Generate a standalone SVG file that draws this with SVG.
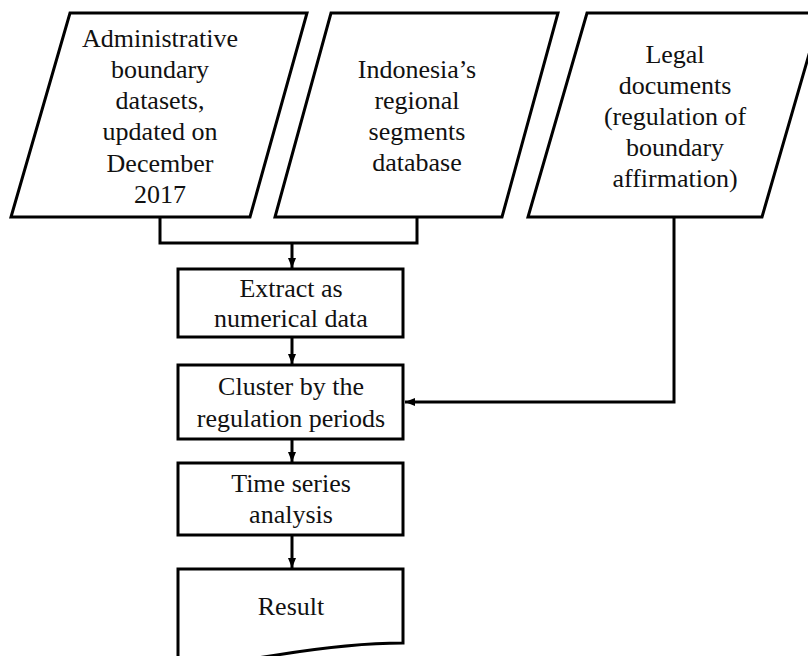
<svg xmlns="http://www.w3.org/2000/svg" width="808" height="656" viewBox="0 0 808 656">
  <defs>
    <marker id="arrow" viewBox="0 0 10 10" refX="10" refY="5" markerWidth="10" markerHeight="10" markerUnits="userSpaceOnUse" orient="auto">
      <path d="M0,1 L10,5 L0,9 Z" fill="#000"/>
    </marker>
    <style>
      .shape { fill: #fff; stroke: #000; stroke-width: 3; stroke-linejoin: miter; }
      .wire { fill: none; stroke: #000; stroke-width: 3; }
      .lbl { font-size: 26px; fill: #111; text-anchor: middle; }
    </style>
  </defs>
  <rect width="808" height="656" fill="#fff"/>

  <!-- connectors -->
  <g id="connectors">
    <polyline class="wire" points="160,217 160,243 417,243 417,217"/>
    <line class="wire" x1="292" y1="243" x2="292" y2="268" marker-end="url(#arrow)"/>
    <line class="wire" x1="292" y1="337" x2="292" y2="364" marker-end="url(#arrow)"/>
    <line class="wire" x1="292" y1="439" x2="292" y2="462" marker-end="url(#arrow)"/>
    <line class="wire" x1="292" y1="535" x2="292" y2="568" marker-end="url(#arrow)"/>
    <polyline class="wire" points="674,217 674,402 405,402" marker-end="url(#arrow)"/>
  </g>

  <g font-family="Liberation Serif, Times New Roman, DejaVu Serif, serif">
  <!-- input data -->
  <g id="input-admin">
    <polygon class="shape" points="70,13 307,13 250,217 11,217"/>
    <text class="lbl" x="160" y="47">Administrative</text>
    <text class="lbl" x="160" y="78">boundary</text>
    <text class="lbl" x="160" y="109">datasets,</text>
    <text class="lbl" x="160" y="140">updated on</text>
    <text class="lbl" x="160" y="172">December</text>
    <text class="lbl" x="160" y="203">2017</text>
  </g>

  <g id="input-segments">
    <polygon class="shape" points="331,13 558,13 502,217 275,217"/>
    <text class="lbl" x="417" y="78">Indonesia’s</text>
    <text class="lbl" x="417" y="109">regional</text>
    <text class="lbl" x="417" y="140">segments</text>
    <text class="lbl" x="417" y="171">database</text>
  </g>

  <g id="input-legal">
    <polygon class="shape" points="587,13 821,13 762,217 528,217"/>
    <text class="lbl" x="675" y="63">Legal</text>
    <text class="lbl" x="675" y="94">documents</text>
    <text class="lbl" x="675" y="125">(regulation of</text>
    <text class="lbl" x="675" y="156">boundary</text>
    <text class="lbl" x="675" y="187">affirmation)</text>
  </g>

  <!-- process steps -->
  <g id="step-extract">
    <rect class="shape" x="178" y="269" width="225" height="68"/>
    <text class="lbl" x="291" y="297">Extract as</text>
    <text class="lbl" x="291" y="327">numerical data</text>
  </g>

  <g id="step-cluster">
    <rect class="shape" x="178" y="365" width="225" height="74"/>
    <text class="lbl" x="291" y="395">Cluster by the</text>
    <text class="lbl" x="291" y="427">regulation periods</text>
  </g>

  <g id="step-timeseries">
    <rect class="shape" x="178" y="463" width="225" height="72"/>
    <text class="lbl" x="291" y="492">Time series</text>
    <text class="lbl" x="291" y="523">analysis</text>
  </g>

  <g id="result">
    <path class="shape" d="M178,569 H403 V643 C360,643 320,648 277,655 C240,661 205,664 178,662 Z"/>
    <text class="lbl" x="291" y="615">Result</text>
  </g>
  </g>
</svg>
